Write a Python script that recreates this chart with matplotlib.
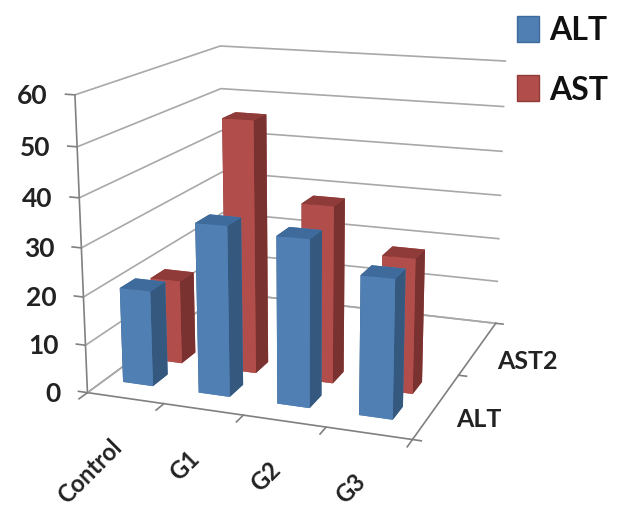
import matplotlib
matplotlib.use("Agg")
import matplotlib.pyplot as plt
from matplotlib.patches import Rectangle
from mpl_toolkits.mplot3d import proj3d
import numpy as np

groups = ["Control", "G1", "G2", "G3"]
depth_labels = ["ALT", "AST2"]
alt = [20, 35, 34, 28]
ast = [18, 53, 37, 28]
yticks = [0, 10, 20, 30, 40, 50, 60]

plt.rcParams['font.family'] = ['Lato', 'DejaVu Sans']

# bottom, top, front, back, left, right
blue_faces = ["#4f7fb3", "#3f6a9c", "#4f7fb3", "#4f7fb3", "#35587f", "#35587f"]
red_faces = ["#b14e4b", "#8f3b39", "#b14e4b", "#b14e4b", "#7a3230", "#7a3230"]
W, H = 624.0, 506.0
grid_col = "#a8a8a8"
axis_col = "#808080"
text_col = "#222222"

fig = plt.figure(figsize=(6.24, 5.06), dpi=100)
size = 530
ax = fig.add_axes([(298 - size/2)/W, (H - 228 - size/2)/H, size/W, size/H], projection='3d', computed_zorder=False)
ax.view_init(elev=15, azim=-70)
ax.set_proj_type('persp', focal_length=0.5)
ax.set_box_aspect((3.3, 3.4, 2.95))

w = 0.4
d = 0.2
xs = 0.44 + 1.0 * np.arange(len(groups))
for i in range(len(groups)):
    ax.bar3d(xs[i] - w/2, 0.72 - d/2, 0, w, d, ast[i], color=red_faces, shade=False, zorder=3 + i)
for i in range(len(groups)):
    ax.bar3d(xs[i] - w/2, 0.32 - d/2, 0, w, d, alt[i], color=blue_faces, shade=False, zorder=10 + i)

ax.set_xlim(0, 4)
ax.set_ylim(0, 2)
ax.set_zlim(0, 60)
ax.set_xticks([])
ax.set_yticks([])
ax.set_zticks([])

for a in (ax.xaxis, ax.yaxis, ax.zaxis):
    a.set_pane_color((1, 1, 1, 0))
    a.pane.set_edgecolor((1, 1, 1, 0))
    a.line.set_color((1, 1, 1, 0))

# value axis on the front left edge, gridlines along the two walls
ax.plot([0, 0], [0, 0], [0, 60], color=axis_col, lw=1.2, zorder=1)
ax.plot([0, 0], [0, 2], [0, 0], color=grid_col, lw=1.2, zorder=1)
ax.plot([0, 4], [2, 2], [0, 0], color=grid_col, lw=1.2, zorder=1)
ax.plot([0, 4, 4], [0, 0, 2], [0, 0, 0], color=axis_col, lw=1.2, zorder=1)
for t in yticks:
    ax.plot([0, 0, 4], [0, 2, 2], [t, t, t], color=grid_col, lw=1.2, zorder=1)
    ax.plot([-0.12, 0], [0, 0], [t, t], color=axis_col, lw=1.2, zorder=1)
for i in range(len(groups) + 1):
    ax.plot([i, i], [-0.1, 0], [0, 0], color=axis_col, lw=1.2, zorder=1)
for j in range(len(depth_labels) + 1):
    ax.plot([4, 4.1], [j, j], [0, 0], color=axis_col, lw=1.2, zorder=1)

fig.canvas.draw()


def to_fig(x, y, z, dx=0, dy=0):
    # 3d data position -> figure fraction, offset in pixels
    px, py, _ = proj3d.proj_transform(x, y, z, ax.get_proj())
    sx, sy = ax.transData.transform((px, py))
    return (sx + dx) / W, (sy + dy) / H


for t in yticks:
    fx, fy = to_fig(0, 0, t, dx=-27)
    fig.text(fx, fy, str(t), ha='right', va='center', fontsize=19, fontweight='bold', color=text_col)
for i, g in enumerate(groups):
    fx, fy = to_fig(i + 0.42, 0, 0, dx=-9, dy=-37)
    fig.text(fx, fy, g, rotation=45, rotation_mode='anchor', ha='right', va='top', fontsize=17, fontweight='bold', color=text_col)
for j, lab in enumerate(depth_labels):
    fx, fy = to_fig(4, j + 0.5, 0, dx=19, dy=-13)
    fig.text(fx, fy, lab, ha='left', va='center', fontsize=18, fontweight='bold', color=text_col)

# legend sits in the top right corner
fig.patches.append(Rectangle((517/W, 1 - 43/H), 22/W, 26/H, transform=fig.transFigure, fc="#4f7fb3", ec="#3f6a9c"))
fig.patches.append(Rectangle((517/W, 1 - 102/H), 22/W, 26/H, transform=fig.transFigure, fc="#b14e4b", ec="#8f3b39"))
fig.text(549/W, 1 - 30/H, "ALT", fontsize=23, fontweight='bold', va='center', color="#111111")
fig.text(549/W, 1 - 90/H, "AST", fontsize=23, fontweight='bold', va='center', color="#111111")

fig.savefig("out.png", dpi=100)
